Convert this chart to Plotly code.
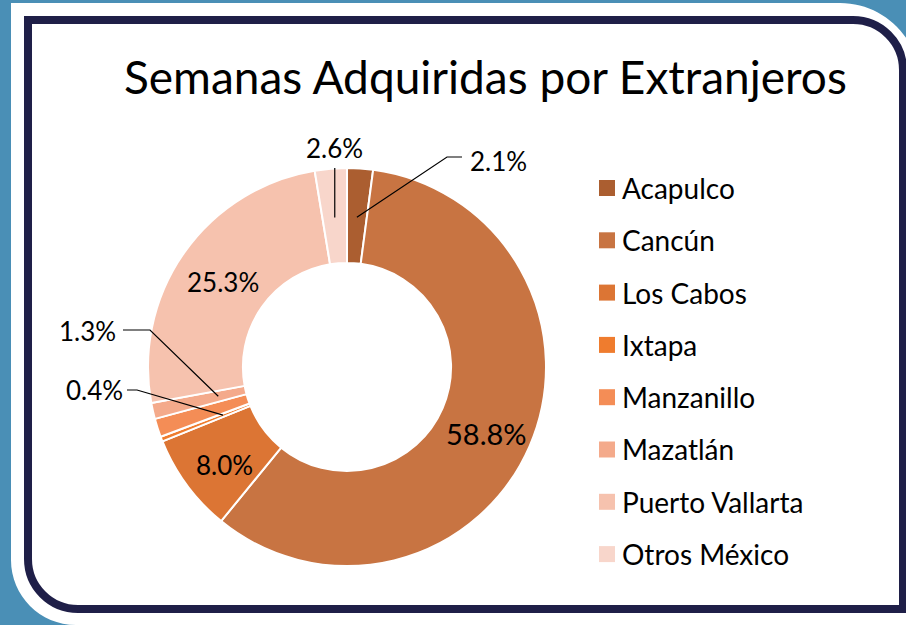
import math
import plotly.graph_objects as go

W, H = 906, 625

# ---------------- data ----------------
categories = ["Acapulco", "Cancún", "Los Cabos", "Ixtapa", "Manzanillo",
              "Mazatlán", "Puerto Vallarta", "Otros México"]
values = [2.1, 58.8, 8.0, 0.4, 1.5, 1.3, 25.3, 2.6]
colors = ["#AB5E30", "#C87442", "#DC7534", "#EF7C2E", "#F48D56",
          "#F4AA8B", "#F6C2AE", "#F8D6CB"]
title_text = "Semanas Adquiridas por Extranjeros"

FONT = "Lato"

# geometry (pixels)
CX, CY, R_OUT = 347, 367, 199
HOLE = 0.523


def P(x, y):
    return x / W, 1 - y / H


def svg(cmds):
    parts = []
    for c in cmds:
        if c == "Z":
            parts.append("Z")
            continue
        op, pts = c[0], c[1:]
        parts.append(op + " " + " ".join("%.5f,%.5f" % P(x, y) for x, y in pts))
    return " ".join(parts)


K = 0.5523

fig = go.Figure()

fig.add_trace(go.Pie(
    labels=categories,
    values=values,
    sort=False,
    direction="clockwise",
    rotation=0,
    hole=HOLE,
    marker=dict(colors=colors, line=dict(color="white", width=2)),
    textinfo="none",
    hoverinfo="label+percent",
    showlegend=False,
    domain=dict(x=[(CX - R_OUT) / W, (CX + R_OUT) / W],
                y=[1 - (CY + R_OUT) / H, 1 - (CY - R_OUT) / H]),
))

shapes = []
annotations = []

# ---- frame: white card with rounded corners ----
Rw1, Rw2 = 80, 65
white = [
    ("M", (11, 3)), ("L", (920 - Rw1, 3)),
    ("C", (920 - Rw1 + K * Rw1, 3), (920, 3 + Rw1 - K * Rw1), (920, 3 + Rw1)),
    ("L", (920, 640)), ("L", (11 + Rw2, 640)), ("L", (11 + Rw2, 625)),
    ("C", (11 + Rw2 - K * Rw2, 625), (11, 625 - Rw2 + K * Rw2), (11, 625 - Rw2)),
    "Z",
]
shapes.append(dict(type="path", xref="paper", yref="paper", layer="below",
                   path=svg(white), fillcolor="white", line=dict(width=0)))

# navy border
L, T, Rr, B = 28, 20, 903, 609
r1, r2 = 50, 50
navy = [
    ("M", (L, T)), ("L", (Rr - r1, T)),
    ("C", (Rr - r1 + K * r1, T), (Rr, T + r1 - K * r1), (Rr, T + r1)),
    ("L", (Rr, B)), ("L", (L + r2, B)),
    ("C", (L + r2 - K * r2, B), (L, B - r2 + K * r2), (L, B - r2)),
    "Z",
]
shapes.append(dict(type="path", xref="paper", yref="paper", layer="below",
                   path=svg(navy), fillcolor="rgba(0,0,0,0)",
                   line=dict(color="#1F1F48", width=8)))

# ---- slice labels ----
total = sum(values)
cum = 0
mid = []
for v in values:
    mid.append((cum + v / 2) / total)
    cum += v


def ring_point(frac, r):
    a = 2 * math.pi * frac
    return CX + r * math.sin(a), CY - r * math.cos(a)


# label placements (styling)
label_cfg = {
    "Acapulco": dict(mode="out", r=150, elbow=(447, 157), end=(462, 157),
                     txt=(468, 161), anchor="left", size=26),
    "Cancún": dict(mode="in", size=29, dy=6),
    "Los Cabos": dict(mode="in", size=26, dy=8),
    "Ixtapa": dict(mode="out", r=133, elbow=(137, 390), end=(127, 390),
                   txt=(125, 390), anchor="right", size=26),
    "Mazatlán": dict(mode="out", r=132, elbow=(150, 330), end=(123, 330),
                     txt=(118, 331), anchor="right", size=26),
    "Puerto Vallarta": dict(mode="in", size=26, dy=2),
    "Otros México": dict(mode="out", r=150, elbow=None, end=(None, 168),
                         txt=(None, 148), anchor="center", size=26),
}
R_MID = R_OUT * (1 + HOLE) / 2

for cat, v, f in zip(categories, values, mid):
    cfg = label_cfg.get(cat)
    if cfg is None:
        continue
    text = f"{v:.1f}%"
    if cfg["mode"] == "in":
        x, y = ring_point(f, R_MID)
        ax, ay = P(x, y + cfg.get("dy", 0))
        annotations.append(dict(x=ax, y=ay, xref="paper", yref="paper",
                                text=text, showarrow=False,
                                font=dict(family=FONT, size=cfg["size"], color="black"),
                                xanchor="center", yanchor="middle"))
    else:
        px0, py0 = ring_point(f, cfg["r"])
        ex, ey = cfg["end"]
        if ex is None:
            ex = px0
        pts = [("M", (px0, py0))]
        if cfg["elbow"] is not None:
            pts.append(("L", cfg["elbow"]))
        pts.append(("L", (ex, ey)))
        shapes.append(dict(type="path", xref="paper", yref="paper", layer="above",
                           path=svg(pts), line=dict(color="black", width=1.2)))
        tx, ty = cfg["txt"]
        if tx is None:
            tx = px0
        ax, ay = P(tx, ty)
        annotations.append(dict(x=ax, y=ay, xref="paper", yref="paper",
                                text=text, showarrow=False,
                                font=dict(family=FONT, size=cfg["size"], color="black"),
                                xanchor=cfg["anchor"], yanchor="middle"))

# ---- legend (manual) ----
LEG_X, LEG_Y0, LEG_DY, SQ = 599, 188, 52.3, 16
for i, (cat, col) in enumerate(zip(categories, colors)):
    yc = LEG_Y0 + i * LEG_DY
    x0, y0 = P(LEG_X, yc + SQ / 2)
    x1, y1 = P(LEG_X + SQ, yc - SQ / 2)
    shapes.append(dict(type="rect", xref="paper", yref="paper", layer="above",
                       x0=x0, y0=y0, x1=x1, y1=y1, fillcolor=col,
                       line=dict(width=0)))
    tx, ty = P(LEG_X + SQ + 5, yc)
    annotations.append(dict(x=tx, y=ty, xref="paper", yref="paper", text=cat,
                            showarrow=False, xanchor="left", yanchor="middle",
                            font=dict(family=FONT, size=28, color="black")))

# ---- title ----
tx, ty = P(486, 76)
annotations.append(dict(x=tx, y=ty, xref="paper", yref="paper", text=title_text,
                        showarrow=False, xanchor="center", yanchor="middle",
                        font=dict(family=FONT, size=46, color="black")))

fig.update_layout(
    width=W, height=H,
    margin=dict(l=0, r=0, t=0, b=0),
    paper_bgcolor="#4A8FB6",
    plot_bgcolor="white",
    shapes=shapes,
    annotations=annotations,
    showlegend=False,
)

fig.write_html("out.html",
               config={"displayModeBar": False},
               post_script="document.body.style.margin='0';"
                           "document.body.style.padding='0';"
                           "document.body.style.background='#4A8FB6';")
